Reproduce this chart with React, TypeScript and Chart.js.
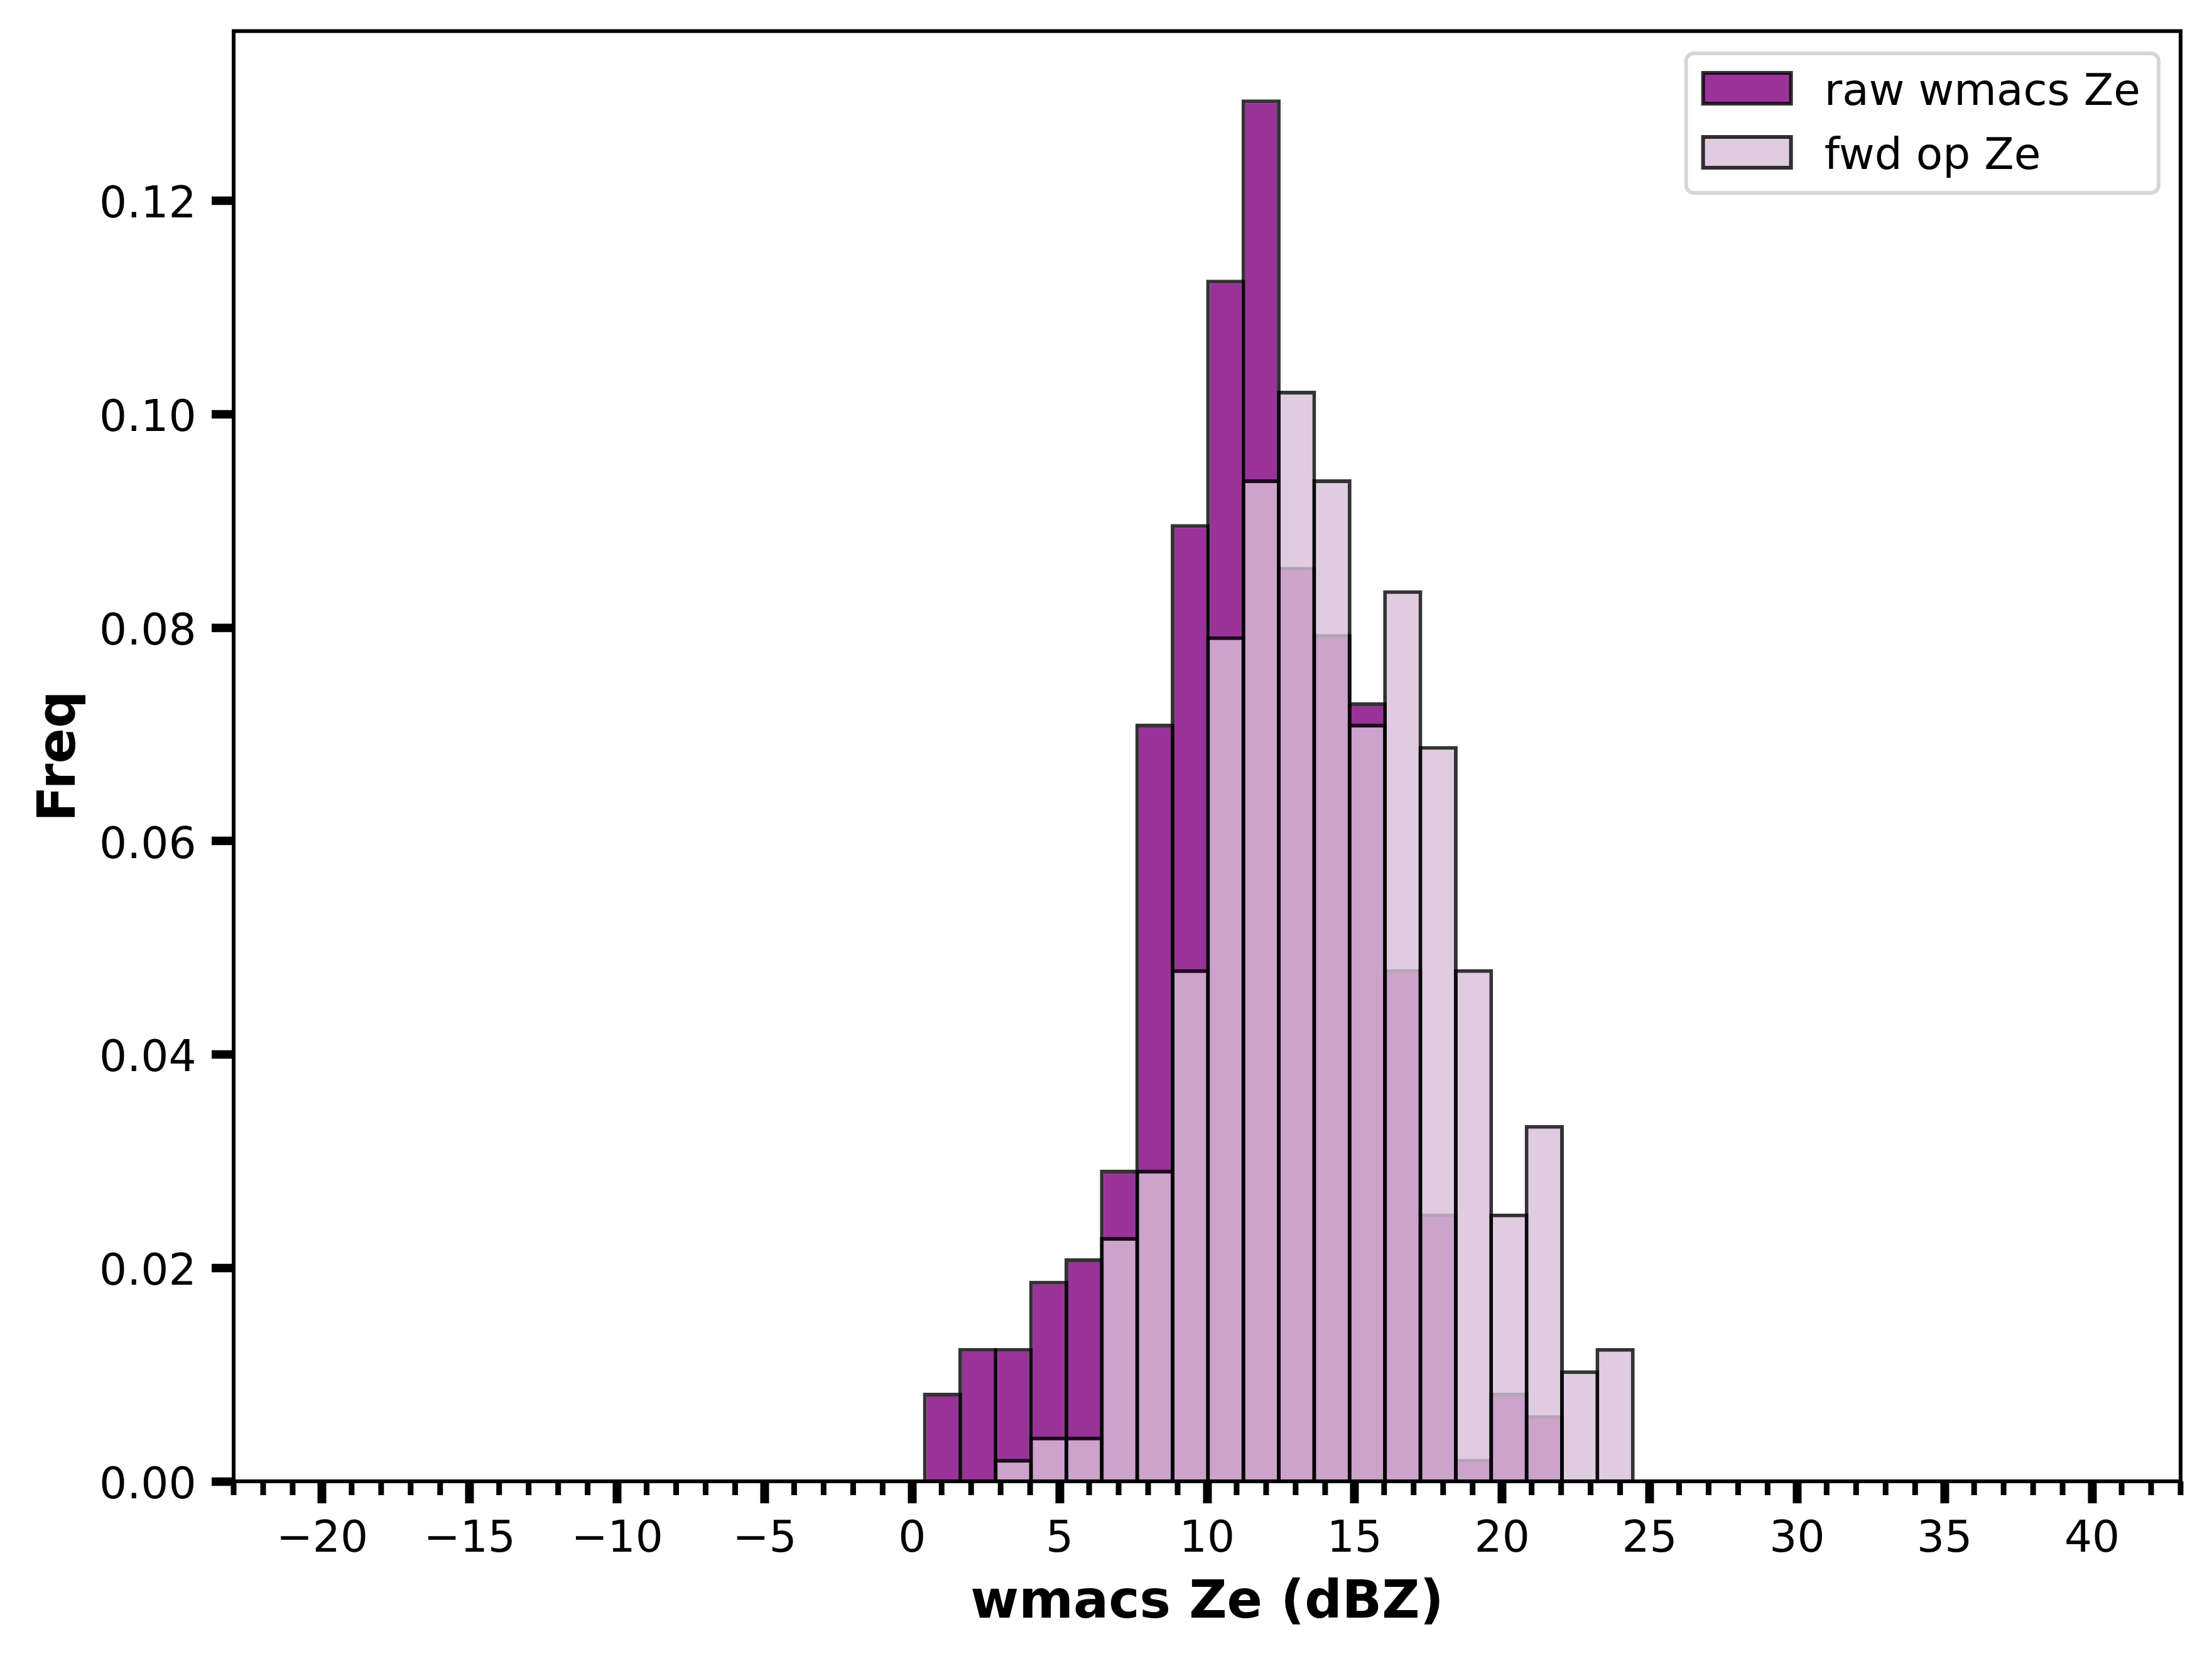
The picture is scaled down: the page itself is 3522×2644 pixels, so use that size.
import React, { useEffect, useRef } from "react";
import { Chart, registerables } from "chart.js";

Chart.register(...registerables);

// ---- data ----
const BIN_CENTERS = [
  1.03, 2.23, 3.43, 4.63, 5.83, 7.03, 8.23, 9.43, 10.63, 11.83,
  13.03, 14.23, 15.43, 16.63, 17.83, 19.03, 20.23, 21.43, 22.63, 23.83,
];
const RAW_FREQ = [
  0.0083, 0.0125, 0.0125, 0.0188, 0.0209, 0.0292, 0.071, 0.0897, 0.1126, 0.1295,
  0.0857, 0.0794, 0.073, 0.048, 0.0251, 0.0021, 0.0083, 0.0062, 0, 0,
];
const FWD_FREQ = [
  0, 0, 0.0021, 0.0042, 0.0042, 0.0229, 0.0292, 0.048, 0.0792, 0.0939,
  0.1022, 0.0939, 0.071, 0.0835, 0.0689, 0.048, 0.0251, 0.0334, 0.0104, 0.0125,
];
const SERIES_LABELS = ["raw wmacs Ze", "fwd op Ze"];
const X_TICKS = [-20, -15, -10, -5, 0, 5, 10, 15, 20, 25, 30, 35, 40];
const Y_TICKS = [0, 0.02, 0.04, 0.06, 0.08, 0.1, 0.12];
const X_TITLE = "wmacs Ze (dBZ)";
const Y_TITLE = "Freq";

// ---- styles ----
const FAMILY = '"DejaVu Sans", sans-serif';
const TICK_SIZE = 69.4;
const LABEL_SIZE = 83.3;
const RAW_FILL = "rgba(128,0,128,0.8)";
const FWD_FILL = "rgba(216,191,216,0.8)";
const EDGE = "rgba(0,0,0,0.8)";
const EDGE_W = 6;

const fmtX = (v: number) => (v < 0 ? "\u2212" + Math.abs(v) : String(v));

const framePlugin = {
  id: "mplFrame",
  afterDatasetsDraw(chart: any) {
    const { ctx, chartArea: a, scales } = chart;
    const xs = scales.x;
    ctx.save();
    ctx.strokeStyle = "#000";
    // minor x ticks
    ctx.lineWidth = 9;
    for (let v = Math.ceil(xs.min); v <= xs.max; v++) {
      if (v % 5 === 0) continue;
      const px = xs.getPixelForValue(v);
      ctx.beginPath();
      ctx.moveTo(px, a.bottom);
      ctx.lineTo(px, a.bottom + 22);
      ctx.stroke();
    }
    // spines
    ctx.lineWidth = 6;
    ctx.strokeRect(a.left, a.top, a.right - a.left, a.bottom - a.top);
    ctx.restore();
  },
};

const legendPlugin = {
  id: "mplLegend",
  afterDraw(chart: any) {
    const { ctx, chartArea: a } = chart;
    const ds = chart.data.datasets;
    ctx.save();
    ctx.font = `${TICK_SIZE}px ${FAMILY}`;
    const textW = Math.max(...ds.map((d: any) => ctx.measureText(d.label).width));
    const padL = 24, handleW = 146, handleH = 55, gap = 50, padR = 29;
    const w = padL + handleW + gap + textW + padR;
    const h = 222;
    const right = a.right - 35;
    const left = right - w;
    const top = a.top + 35.5;
    ctx.beginPath();
    (ctx as any).roundRect(left, top, w, h, 12);
    ctx.fillStyle = "rgba(255,255,255,0.8)";
    ctx.fill();
    ctx.lineWidth = 6;
    ctx.strokeStyle = "#d6d6d6";
    ctx.stroke();
    ds.forEach((d: any, i: number) => {
      const cy = top + 55.5 + i * 102;
      const x0 = left + padL;
      const bw = EDGE_W;
      ctx.beginPath();
      ctx.rect(x0 + bw / 2, cy - handleH / 2 + bw / 2, handleW - bw, handleH - bw);
      ctx.fillStyle = d.backgroundColor;
      ctx.fill();
      ctx.lineWidth = bw;
      ctx.strokeStyle = d.borderColor;
      ctx.stroke();
      ctx.fillStyle = "#000";
      ctx.textAlign = "left";
      ctx.textBaseline = "alphabetic";
      ctx.fillText(d.label, x0 + handleW + gap, cy + 26);
    });
    ctx.restore();
  },
};

export default function App() {
  const ref = useRef<HTMLCanvasElement | null>(null);

  useEffect(() => {
    if (!ref.current) return;
    const mk = (vals: number[]) => BIN_CENTERS.map((x, i) => ({ x, y: vals[i] ? vals[i] : null }));
    const barCommon = {
      borderColor: EDGE,
      borderWidth: EDGE_W,
      grouped: false,
      barPercentage: 1.106,
      categoryPercentage: 1,
      borderSkipped: "start",
    };
    const chart = new Chart(ref.current, {
      type: "bar",
      data: {
        datasets: [
          { label: SERIES_LABELS[0], data: mk(RAW_FREQ), backgroundColor: RAW_FILL, order: 2, ...barCommon } as any,
          { label: SERIES_LABELS[1], data: mk(FWD_FREQ), backgroundColor: FWD_FILL, order: 1, ...barCommon } as any,
        ],
      },
      options: {
        animation: false,
        responsive: false,
        devicePixelRatio: 1,
        layout: { autoPadding: false, padding: { top: 49.5, right: 50, bottom: 0, left: 0 } } as any,
        plugins: { legend: { display: false }, tooltip: { enabled: false } },
        scales: {
          x: {
            type: "linear",
            min: -23,
            max: 43,
            offset: false,
            afterBuildTicks: (s: any) => {
              s.ticks = X_TICKS.map((v) => ({ value: v }));
            },
            afterFit: (s: any) => {
              s.height = 286;
              s.paddingLeft = 0;
              s.paddingRight = 0;
            },
            ticks: {
              font: { family: FAMILY, size: TICK_SIZE },
              color: "#000",
              padding: 17.4,
              maxRotation: 0,
              autoSkip: false,
              callback: (v: any) => fmtX(Number(v)),
            },
            grid: {
              display: true,
              offset: false,
              drawOnChartArea: false,
              drawTicks: true,
              tickLength: 35,
              tickWidth: 14,
              tickColor: "#000",
            },
            border: { display: false },
            title: {
              display: true,
              text: X_TITLE,
              color: "#000",
              font: { family: FAMILY, size: LABEL_SIZE, weight: "bold" },
              padding: { top: 0, bottom: 40.7 },
            },
          } as any,
          y: {
            type: "linear",
            min: 0,
            max: 0.1359,
            afterBuildTicks: (s: any) => {
              s.ticks = Y_TICKS.map((v) => ({ value: v }));
            },
            afterFit: (s: any) => {
              s.width = 372;
              s.paddingTop = 0;
              s.paddingBottom = 0;
            },
            ticks: {
              font: { family: FAMILY, size: TICK_SIZE },
              color: "#000",
              padding: 24.4,
              labelOffset: 8.7,
              callback: (v: any) => Number(v).toFixed(2),
            },
            grid: {
              display: true,
              drawOnChartArea: false,
              drawTicks: true,
              tickLength: 35,
              tickWidth: 13.3,
              tickColor: "#000",
            },
            border: { display: false },
            title: {
              display: true,
              text: Y_TITLE,
              color: "#000",
              font: { family: FAMILY, size: LABEL_SIZE, weight: "bold" },
              padding: { top: 47.3, bottom: 0 },
            },
          } as any,
        },
      },
      plugins: [framePlugin, legendPlugin],
    });
    return () => chart.destroy();
  }, []);

  return (
    <div style={{ position: "fixed", left: 0, top: 0, width: 3522, height: 2644, background: "#fff" }}>
      <canvas ref={ref} width={3522} height={2644} style={{ display: "block" }} />
    </div>
  );
}
